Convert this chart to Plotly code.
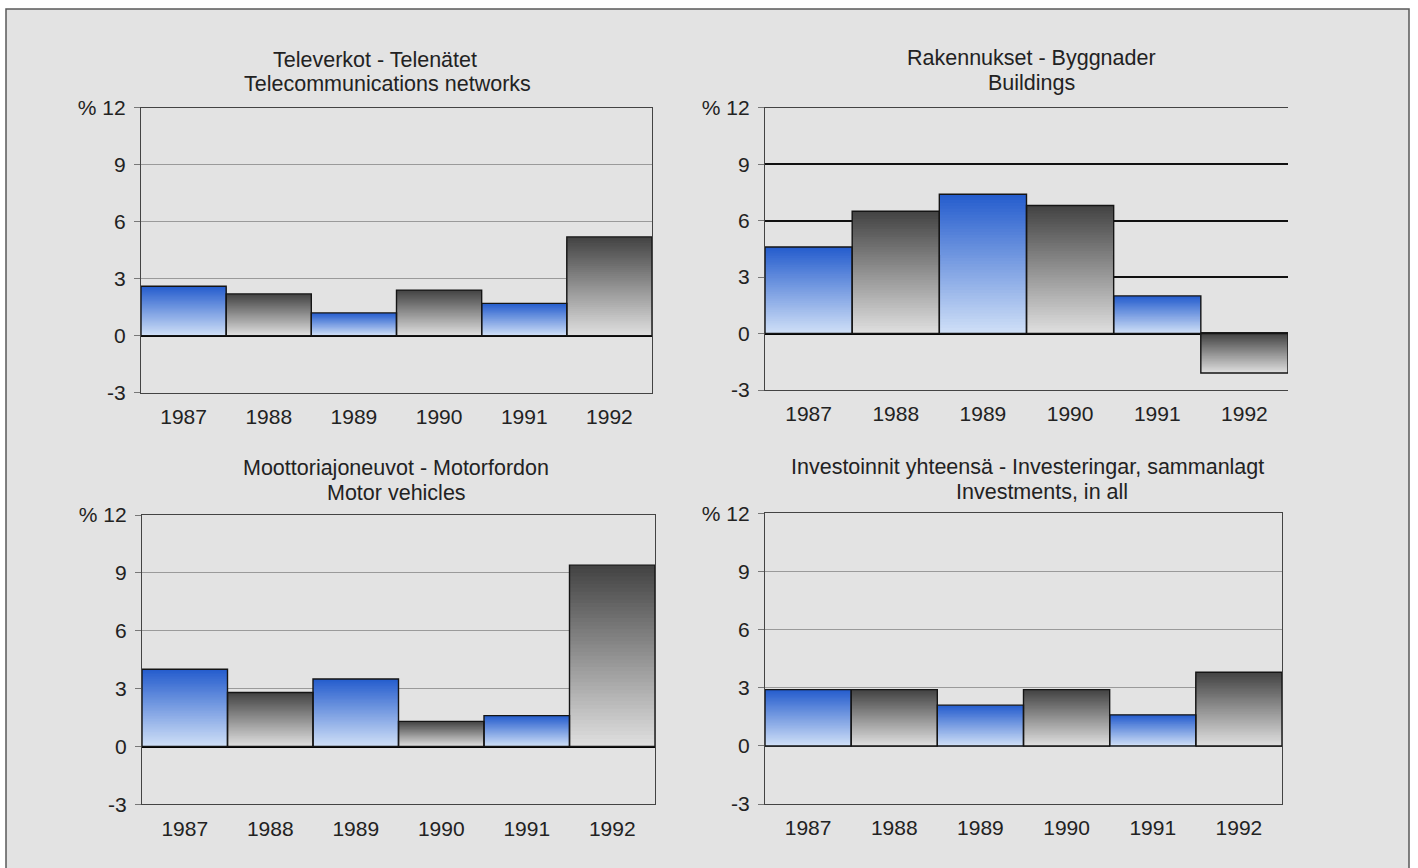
import plotly.graph_objects as go

# ---- data ----
years = ["1987", "1988", "1989", "1990", "1991", "1992"]
telecom = [2.6, 2.2, 1.2, 2.4, 1.7, 5.2]
buildings = [4.6, 6.5, 7.4, 6.8, 2.0, -2.1]
motor = [4.0, 2.8, 3.5, 1.3, 1.6, 9.4]
total = [2.9, 2.9, 2.1, 2.9, 1.6, 3.8]

title_tl = ["Televerkot - Telenätet", "Telecommunications networks"]
title_tr = ["Rakennukset - Byggnader", "Buildings"]
title_bl = ["Moottoriajoneuvot - Motorfordon", "Motor vehicles"]
title_br = ["Investoinnit yhteensä - Investeringar, sammanlagt", "Investments, in all"]

ytick_vals = [-3, 0, 3, 6, 9, 12]
ytick_text = ["-3", "0", "3", "6", "9", "% 12"]

W, H = 1418, 868
FONT = "Liberation Sans, Arial, Helvetica, sans-serif"
TXT = "#222222"

BLUE_DARK, BLUE_LIGHT = (36, 92, 205), (208, 224, 247)
GRAY_DARK, GRAY_LIGHT = (66, 66, 66), (224, 224, 224)


def mix(c_dark, c_light, t):
    r = [round(c_light[k] + (c_dark[k] - c_light[k]) * t) for k in range(3)]
    return "rgb(%d,%d,%d)" % tuple(r)


panels = [
    (telecom, title_tl, (141, 652), (107.7, 392.7), "#9a9a9a", 1, True,
     [(375, 59.5), (387, 84)]),
    (buildings, title_tr, (765, 1288), (107.7, 390.0), "#111111", 1.6, False,
     [(1031, 58.5), (1031, 83)]),
    (motor, title_bl, (142, 655), (515.0, 804.3), "#9a9a9a", 1, True,
     [(396, 468), (396.5, 492.5)]),
    (total, title_br, (765, 1282), (513.3, 804.0), "#9a9a9a", 1, True,
     [(1027, 467), (1042, 491.5)]),
]

N = 48
fig = go.Figure()
layout = dict(
    width=W, height=H,
    margin=dict(l=0, r=0, t=0, b=0, autoexpand=False),
    paper_bgcolor="white", plot_bgcolor="white",
    barmode="overlay", showlegend=False,
    font=dict(family=FONT, size=21, color=TXT),
    shapes=[dict(type="rect", xref="paper", yref="paper",
                 x0=6 / W, x1=1409 / W, y0=-0.05, y1=1 - 9 / H,
                 fillcolor="#e3e3e3", line=dict(color="#5a5a5a", width=1.5),
                 layer="below")],
    annotations=[],
)

for p, (vals, titles, xd, yd, gcol, gw, mir, tpos) in enumerate(panels):
    n = "" if p == 0 else str(p + 1)
    xa, ya = "x" + n, "y" + n
    # gradient: overlapping bars from 0 to a growing fraction of each value,
    # tallest drawn first so each shorter one covers the lower part
    for k in range(N - 1, -1, -1):
        cols = []
        for j, v in enumerate(vals):
            t = (k + 0.5) / N if v >= 0 else 1 - (k + 0.5) / N
            if j % 2 == 0:
                cols.append(mix(BLUE_DARK, BLUE_LIGHT, t))
            else:
                cols.append(mix(GRAY_DARK, GRAY_LIGHT, t))
        fig.add_trace(go.Bar(
            x=years, y=[v * (k + 1) / N for v in vals],
            width=1.0, marker=dict(color=cols, line=dict(width=0)),
            xaxis=xa, yaxis=ya, hoverinfo="skip"))
    fig.add_trace(go.Bar(
        x=years, y=vals, width=1.0,
        marker=dict(color="rgba(0,0,0,0)", line=dict(color="#151515", width=1.4)),
        xaxis=xa, yaxis=ya))

    layout["xaxis" + n] = dict(
        domain=[xd[0] / W, xd[1] / W], anchor=ya, type="category",
        range=[-0.5, 5.5], showgrid=False, ticks="", showline=True,
        linecolor="#444444", linewidth=1.3, mirror=True, automargin=False,
        tickfont=dict(family=FONT, size=21, color=TXT), ticklabelstandoff=5)
    layout["yaxis" + n] = dict(
        domain=[1 - yd[1] / H, 1 - yd[0] / H], anchor=xa,
        range=[-3, 12], tickvals=ytick_vals, ticktext=ytick_text,
        showgrid=True, gridcolor=gcol, gridwidth=gw, automargin=False,
        zeroline=True, zerolinecolor="#000000", zerolinewidth=2.6,
        showline=True, linecolor="#444444", linewidth=1.3, mirror=mir,
        ticks="outside", ticklen=6, tickcolor="#777777", tickwidth=1,
        tickfont=dict(family=FONT, size=21, color=TXT), ticklabelstandoff=4)
    for (cx, cy), txt in zip(tpos, titles):
        layout["annotations"].append(dict(
            text=txt, x=cx / W, y=1 - cy / H, xref="paper", yref="paper",
            xanchor="center", yanchor="middle", showarrow=False,
            font=dict(family=FONT, size=21.5, color=TXT)))

fig.update_layout(**layout)
fig.write_html("out.html", config={"displayModeBar": False},
               post_script="document.body.style.margin='0';")
